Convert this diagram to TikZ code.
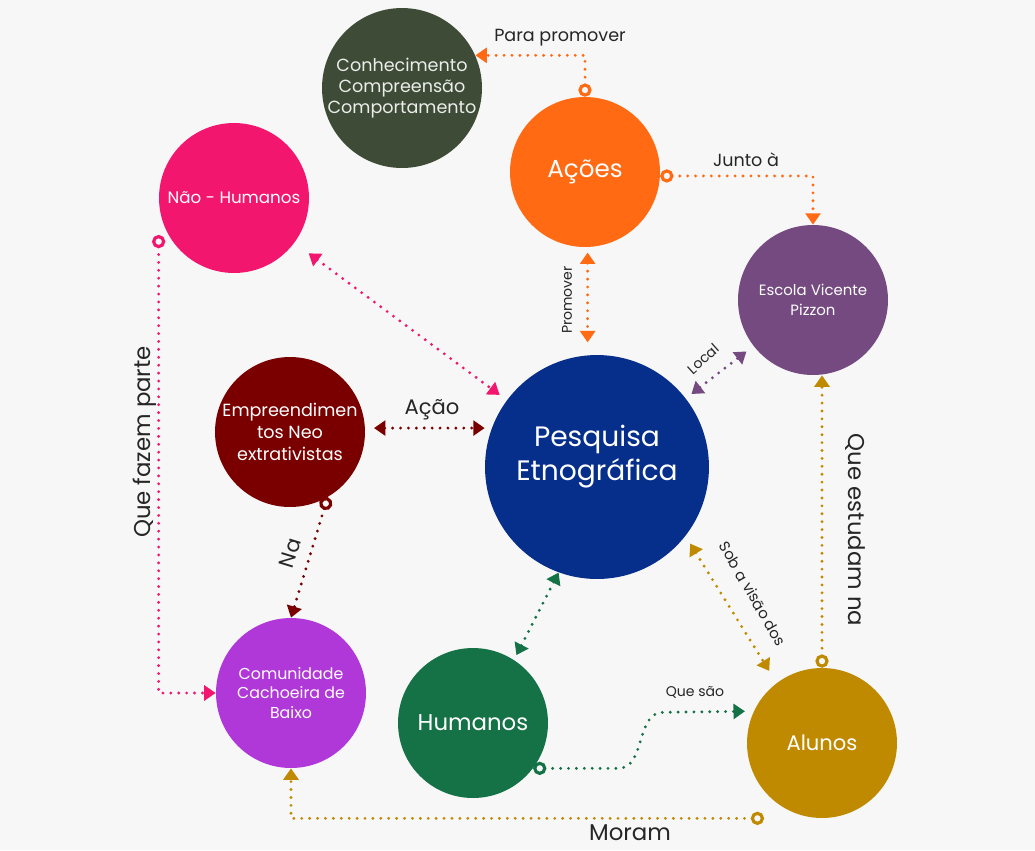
\documentclass[tikz,border=0pt]{standalone}
\usepackage{fontspec}
\setmainfont{Poppins}
\usetikzlibrary{arrows.meta,calc,positioning}

\definecolor{bgGray}{HTML}{F7F7F7}
\definecolor{cnhGreen}{HTML}{3E4C37}
\definecolor{acOrange}{HTML}{FF6A13}
\definecolor{nhPink}{HTML}{F2166E}
\definecolor{escPurple}{HTML}{744A80}
\definecolor{pesqBlue}{HTML}{052F8A}
\definecolor{empRed}{HTML}{7A0000}
\definecolor{comPurple}{HTML}{B038D8}
\definecolor{humGreen}{HTML}{147246}
\definecolor{aluGold}{HTML}{C08A00}

\begin{document}
\begin{tikzpicture}
            [
                x=0.02cm, y=-0.02cm,
                bubble/.style={circle, inner sep=0pt, minimum size=3cm, text=white, align=center, font=\fontsize{10}{12}\selectfont},
                link/.style={line width=1.8pt, dash pattern=on 0pt off 4.5pt, line cap=round},
                ringtri/.style={arrows={Circle[open,length=7.5pt,width=7.5pt]-Triangle[length=6.5pt,width=8.5pt]}},
                tritri/.style={arrows={Triangle[length=6.5pt,width=8.5pt]-Triangle[length=6.5pt,width=8.5pt]}},
                lbl/.style={text=black!85, font=\fontsize{10}{12}\selectfont},
            ]

            \useasboundingbox (0,0) rectangle (1035,850);
            \fill[bgGray] (0,0) rectangle (1035,850);

            %% CIRCLES
            \node[bubble, fill=cnhGreen, text=white!90!cnhGreen, minimum size=2.96cm] (conhecimento) at (402,88) {Conhecimento\\Compreensão\\Comportamento};
            \node[bubble, fill=acOrange, font=\fontsize{14}{16}\selectfont] (acoes) at (585,172) {Ações};
            \node[bubble, fill=nhPink, font=\fontsize{9.5}{11}\selectfont] (naohumanos) at (234,198) {Não - Humanos};
            \node[bubble, fill=escPurple, font=\fontsize{8.5}{11.3}\selectfont] (escola) at (813,300) {Escola Vicente\\Pizzon};
            \node[bubble, fill=pesqBlue, minimum size=4.48cm, font=\fontsize{16}{19}\selectfont] (pesquisa) at (597,467) {Pesquisa\\Etnográfica\\[-3pt]};
            \node[bubble, fill=empRed, font=\fontsize{10}{12.5}\selectfont] (empreend) at (290,432) {Empreendimen\\tos Neo\\extrativistas};
            \node[bubble, fill=comPurple, font=\fontsize{9}{11.3}\selectfont] (comunidade) at (291,693) {Comunidade\\Cachoeira de\\Baixo};
            \node[bubble, fill=humGreen, font=\fontsize{13}{15}\selectfont] (humanos) at (473,723) {Humanos};
            \node[bubble, fill=aluGold, font=\fontsize{12}{14}\selectfont] (alunos) at (822,743) {Alunos};

            %% ACOES
            \draw[link, acOrange, ringtri] (acoes.north) |- (conhecimento.24);
            \node[lbl] (lblpara) at (560,38) {Para promover};
            \draw[link, acOrange, ringtri] (acoes.-3) -| (escola.north);
            \node[lbl] (lbljunto) at (746,160) {Junto à};
            \draw[link, acOrange, tritri, shorten <=3pt, shorten >=7pt] (acoes.-88) -- (acoes.-88 |- pesquisa.north);
            \node[lbl, rotate=90, font=\fontsize{8}{10}\selectfont] (lblpromover) at (567,300) {Promover};

            %% NAO HUMANOS
            \draw[link, nhPink, tritri, shorten <=10pt, shorten >=5pt] (naohumanos) -- (pesquisa);
            \draw[link, nhPink, ringtri] ($(naohumanos.west)+(0,37)$) |- (comunidade.west);
            \node[lbl, rotate=90, font=\fontsize{13}{15}\selectfont] (lblfazem) at (145,442) {Que fazem parte};

            %% EMPREENDIMENTOS
            \draw[link, empRed, tritri, shorten <=5pt] (empreend.3) -- (empreend.3 -| pesquisa.west);
            \node[lbl, font=\fontsize{12}{14}\selectfont] (lblacao) at (432,410) {Ação};
            \draw[link, empRed, ringtri] (empreend.-60) -- (comunidade.north);
            \node[lbl, rotate=73, font=\fontsize{12}{14}\selectfont] (lblna) at (290,553) {Na};

            %% PESQUISA
            \draw[link, escPurple, tritri, shorten <=4pt, shorten >=5pt] (pesquisa) -- (escola);
            \node[lbl, rotate=42, font=\fontsize{8}{10}\selectfont] (lbllocal) at (703,359) {Local};
            \draw[link, humGreen, tritri, shorten >=3pt] (pesquisa.-110) -- (humanos.57);
            \draw[link, aluGold, tritri, shorten <=5pt, shorten >=8pt] (pesquisa.-38) -- (alunos.127);
            \node[lbl, rotate=-60, font=\fontsize{8.5}{10}\selectfont] (lblsob) at (753,594) {Sob a visão dos};

            %% ALUNOS
            \draw[link, aluGold, ringtri] (alunos.north) -- (alunos.north |- escola.south);
            \node[lbl, rotate=-90, font=\fontsize{13}{15}\selectfont] (lblestudam) at (855,530) {Que estudam na};
            \draw[link, humGreen, ringtri, shorten >=5pt] (humanos.-37) -- ++(85,0) to[out=0,in=180] ++(45,-56) -- (alunos.155);
            \node[lbl, font=\fontsize{8}{10}\selectfont] (lblquesao) at (695,692) {Que são};
            \draw[link, aluGold, ringtri] ($(alunos.south)+(-58,0)$) -| (comunidade.south);
            \node[lbl, font=\fontsize{13}{15}\selectfont] (lblmoram) at (630,833) {Moram};

        \end{tikzpicture}
\end{document}
